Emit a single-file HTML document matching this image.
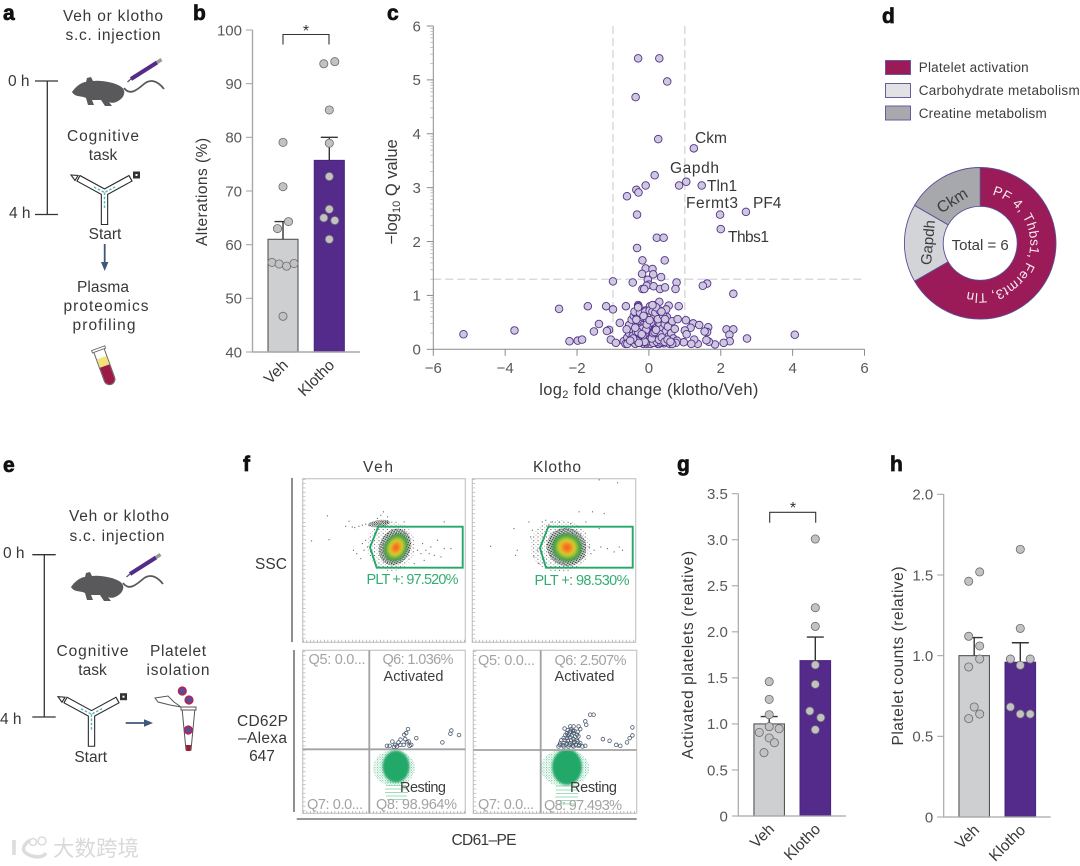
<!DOCTYPE html>
<html lang="en">
<head>
<meta charset="utf-8">
<title>Klotho platelet figure</title>
<style>
html,body{margin:0;padding:0;background:#fff;}
svg{display:block;font-family:"Liberation Sans","Noto Sans CJK SC",sans-serif;}
.lab{font-size:15.5px;fill:#38383a;}
.vol{font-size:16.5px;fill:#38383a;}
.tick{font-size:15px;fill:#58585a;}
.panel{font-size:21px;font-weight:bold;fill:#111;stroke:#111;stroke-width:.7px;}
.q{font-size:14.5px;fill:#a3a3a5;}
.ql{font-size:14.5px;fill:#3d3d3f;}
.plt{font-size:14.5px;fill:#35ad72;}
</style>
</head>
<body>
<svg id="fig" xmlns="http://www.w3.org/2000/svg" width="1080" height="866" viewBox="0 0 1080 866">
<defs>
<pattern id="speckleDark" width="2.2" height="2.2" patternUnits="userSpaceOnUse"><rect x="0" y="0" width="1.1" height="1.1" fill="#1a1a1a"/><rect x="1.2" y="1.2" width=".9" height=".9" fill="#28583a"/></pattern>
<pattern id="speckleGrey" width="4.3" height="3.7" patternUnits="userSpaceOnUse"><rect x="0" y="0" width="1" height="1" fill="#555"/><rect x="2.4" y="2" width=".8" height=".8" fill="#888"/></pattern>
<pattern id="speckleGreen" width="2.6" height="2.6" patternUnits="userSpaceOnUse"><rect x="0" y="0" width="1" height="1" fill="#4dbb85"/><rect x="1.4" y="1.4" width=".8" height=".8" fill="#7ccfa6"/></pattern>
<radialGradient id="heat"><stop offset="0" stop-color="#f0522a"/><stop offset=".28" stop-color="#f58a22"/><stop offset=".52" stop-color="#d8d02c"/><stop offset=".78" stop-color="#5cb043"/><stop offset="1" stop-color="#2f8a4c"/></radialGradient>
<filter id="soft" x="-30%" y="-30%" width="160%" height="160%"><feGaussianBlur stdDeviation="1"/></filter>
<g id="mouse-art">
<path d="M124,88 C130,96 137,90 144,84 C150,79 157,80 164,89" fill="none" stroke="#59595c" stroke-width="1.8"/>
<path d="M72,92 C76,86 82,82 86,82 L87,78 L91,77 L93,81 C100,80 112,82 118,85 C125,88 126,93 122,98 C118,102 113,104 109,102 L112,106 L105,106 L101,100 L92,100 L94,105 L88,105 L86,98 C82,96 80,97 78,96 C76,96 73,94 72,92 Z" fill="#59595c"/>
<path d="M127.5,82 L132,78" stroke="#555" stroke-width="1.2"/>
<path d="M131,79 L157,62.5" stroke="#542a8a" stroke-width="4"/>
<path d="M157,62.5 L161.5,59.5" stroke="#999" stroke-width="3.5"/>
</g>
<g id="ymaze-art">
<path d="M78,178 L104.5,192.5 L131,178 M104.5,192.5 L104.5,225" fill="none" stroke="#2b2b2b" stroke-width="7.4"/>
<path d="M79,178.6 L104.5,192.5 L130,178.6 M104.5,192.5 L104.5,224" fill="none" stroke="#fff" stroke-width="5.2"/>
<path d="M94,187 L104.5,192.5 L115,187 M104.5,192.5 L104.5,209" fill="none" stroke="#55b5b8" stroke-width="1.4" stroke-dasharray="2.5 1.8"/>
<path d="M71,175 L78,175.5 L75,180.5 Z" fill="#fff" stroke="#2b2b2b" stroke-width="1.1"/>
<rect x="133" y="171.5" width="7" height="7" fill="#333"/><rect x="135.5" y="174" width="2" height="2" fill="#fff"/>
</g>
</defs>

<!-- Panel letters -->
<text class="panel" x="3" y="20">a</text>
<text class="panel" x="193" y="20">b</text>
<text class="panel" x="387" y="20">c</text>
<text class="panel" x="882" y="23">d</text>
<text class="panel" x="3" y="472">e</text>
<text class="panel" x="243" y="471">f</text>
<text class="panel" x="677" y="471">g</text>
<text class="panel" x="890" y="471">h</text>

<!-- Panel a -->
<g>
<text class="lab" x="113" y="21" text-anchor="middle" textLength="100">Veh or klotho</text>
<text class="lab" x="113" y="40" text-anchor="middle" textLength="95">s.c. injection</text>
<text class="lab" x="8" y="86">0 h</text>
<text class="lab" x="9" y="218">4 h</text>
<path d="M35,81 H58 M47.3,81 V214.5 M35,214.5 H58" fill="none" stroke="#333" stroke-width="1.3"/>
<use href="#mouse-art"/>
<text class="lab" x="103" y="141" text-anchor="middle" textLength="72">Cognitive</text>
<text class="lab" x="103" y="160" text-anchor="middle">task</text>
<use href="#ymaze-art"/>
<text class="lab" x="105" y="239" text-anchor="middle">Start</text>
<path d="M104.7,244 V268" stroke="#3f5876" stroke-width="1.8"/><path d="M101,262 L104.7,271 L108.4,262 Z" fill="#3f5876"/>
<text class="lab" x="103" y="292" text-anchor="middle" textLength="52">Plasma</text>
<text class="lab" x="106" y="311" text-anchor="middle" textLength="85">proteomics</text>
<text class="lab" x="104" y="330" text-anchor="middle" textLength="63">profiling</text>
<g transform="translate(105,367) rotate(-20)">
<path d="M-5.5,-18 V13 A5.5,5.5 0 0 0 5.5,13 V-18 Z" fill="#fff" stroke="#666" stroke-width="1"/>
<rect x="-5" y="-10" width="10" height="9" fill="#f3e27c"/>
<path d="M-5,-1 V13 A5,5 0 0 0 5,13 V-1 Z" fill="#9a1b45"/>
<rect x="-7" y="-20" width="14" height="2.5" fill="#fff" stroke="#666" stroke-width=".9"/>
</g>
</g>

<!-- Panel b -->
<g id="chart-b">
<path d="M283,44.5 V34.5 H329 V44.5" fill="none" stroke="#333" stroke-width="1.1"/>
<text x="306" y="36" font-size="16" text-anchor="middle" fill="#333">*</text>
<text class="lab" transform="translate(207,192) rotate(-90)" text-anchor="middle" textLength="108">Alterations (%)</text>
</g>

<!-- Panel c -->
<g id="chart-c">
<text class="vol" transform="translate(397,192) rotate(-90)" text-anchor="middle">−log<tspan font-size="11" dy="3">10</tspan><tspan dy="-3"> Q value</tspan></text>
<text class="vol" x="649" y="395" text-anchor="middle" letter-spacing=".3">log<tspan font-size="11" dy="3">2</tspan><tspan dy="-3"> fold change (klotho/Veh)</tspan></text>
<text class="lab" x="695" y="143">Ckm</text>
<text class="lab" x="670" y="173" textLength="49">Gapdh</text>
<text class="lab" x="707" y="191">Tln1</text>
<text class="lab" x="686" y="208" textLength="52">Fermt3</text>
<text class="lab" x="753" y="208">PF4</text>
<text class="lab" x="728" y="242" textLength="41">Thbs1</text>
</g>

<!-- Panel d -->
<g>
<rect x="885.5" y="60.5" width="25" height="14" fill="#9a1b57" stroke="#6b5aa0"/>
<rect x="885.5" y="83.5" width="25" height="14" fill="#e1e2e5" stroke="#6b5aa0"/>
<rect x="885.5" y="106" width="25" height="14" fill="#a8a9ad" stroke="#6b5aa0"/>
<text x="918.7" y="72" font-size="13.5" fill="#3d3d3f" textLength="110">Platelet activation</text>
<text x="918.7" y="95" font-size="13.5" fill="#3d3d3f" textLength="161">Carbohydrate metabolism</text>
<text x="918.7" y="118" font-size="13.5" fill="#3d3d3f" textLength="128">Creatine metabolism</text>
</g>
<g id="chart-d"></g>

<!-- Panel e -->
<g>
<text class="lab" x="119" y="521" text-anchor="middle" textLength="100">Veh or klotho</text>
<text class="lab" x="117" y="541" text-anchor="middle" textLength="95">s.c. injection</text>
<text class="lab" x="3" y="558">0 h</text>
<text class="lab" x="0" y="724">4 h</text>
<path d="M32.3,554.7 H55.7 M44.3,554.7 V717 M32.3,717 H55.7" fill="none" stroke="#333" stroke-width="1.3"/>
<use href="#mouse-art" transform="translate(-1,495)"/>
<text class="lab" x="92.5" y="656" text-anchor="middle" textLength="72">Cognitive</text>
<text class="lab" x="92.5" y="675" text-anchor="middle">task</text>
<text class="lab" x="178" y="656" text-anchor="middle" textLength="56">Platelet</text>
<text class="lab" x="178" y="675" text-anchor="middle" textLength="63">isolation</text>
<use href="#ymaze-art" transform="translate(-13,521.7)"/>
<text class="lab" x="90.7" y="762" text-anchor="middle">Start</text>
<path d="M125.7,723 H149" stroke="#3f5876" stroke-width="1.8"/><path d="M144,719.3 L153,723 L144,726.7 Z" fill="#3f5876"/>
<g>
<path d="M182,708 H195 L191,750 H186 Z" fill="#fff" stroke="#555" stroke-width="1"/>
<path d="M186,745 H191 L190.5,751 H186.5 Z" fill="#9a1b35"/>
<rect x="181" y="707" width="15" height="3" fill="#fff" stroke="#555" stroke-width="1"/>
<path d="M155,698 L168,696 L174,702 L181,707 L170,705 L158,702 Z" fill="#fff" stroke="#555" stroke-width="1"/>
<circle cx="182.3" cy="691" r="3.8" fill="#5a4c9a" stroke="#b0264f" stroke-width="1.6"/>
<circle cx="189" cy="700" r="3.8" fill="#5a4c9a" stroke="#b0264f" stroke-width="1.6"/>
<circle cx="188.3" cy="730" r="3.8" fill="#5a4c9a" stroke="#b0264f" stroke-width="1.6"/>
</g>
</g>

<!-- Panel f -->
<g id="chart-f">
<text class="lab" x="378" y="472" text-anchor="middle" textLength="30">Veh</text>
<text class="lab" x="557" y="472" text-anchor="middle" textLength="48">Klotho</text>
<text class="lab" x="287" y="569" text-anchor="end" textLength="32">SSC</text>
<text class="lab" x="288" y="726" text-anchor="end" textLength="51">CD62P</text>
<text class="lab" x="287" y="743" text-anchor="end" textLength="49">–Alexa</text>
<text class="lab" x="262" y="761" text-anchor="middle">647</text>
<text class="lab" x="484" y="845" text-anchor="middle" textLength="65">CD61–PE</text>
<path d="M292,478 V642 M294,650 V812" stroke="#333" stroke-width="1.1" fill="none"/>
<path d="M296.7,819 H636.7" stroke="#777" stroke-width="1.6"/>

<rect x="302.7" y="478.7" width="162.6" height="163.6" fill="#fff" stroke="#c6c6c6" stroke-width="1.2"/>
<rect x="472.3" y="478.7" width="163.4" height="163.6" fill="#fff" stroke="#c6c6c6" stroke-width="1.2"/>
<rect x="302.7" y="650.3" width="162.6" height="163" fill="#fff" stroke="#c6c6c6" stroke-width="1.2"/>
<rect x="473.3" y="650.3" width="163.4" height="163" fill="#fff" stroke="#c6c6c6" stroke-width="1.2"/>
<path d="M304,479 V642 M473.7,479 V642 M304,651 V813 M474.7,651 V813" stroke="#b5b5b5" stroke-width="3" stroke-dasharray=".7 3.6" fill="none"/>
<path d="M303,641 H465 M472,641 H635 M303,812.2 H465 M473,812.2 H636" stroke="#a9a9a9" stroke-width="2.5" stroke-dasharray=".7 2.8" fill="none"/>

<g>
<ellipse cx="391" cy="546" rx="24" ry="25" fill="url(#speckleGrey)"/>
<ellipse cx="379" cy="523.5" rx="11" ry="3.5" fill="url(#speckleDark)" transform="rotate(-8 379 523.5)"/>
<ellipse cx="395" cy="547" rx="15.5" ry="19" fill="url(#speckleDark)" transform="rotate(25 395 547)"/>
<ellipse cx="396" cy="547.5" rx="11.5" ry="14.5" fill="url(#heat)" transform="rotate(28 396 547.5)" filter="url(#soft)"/>
</g>
<g>
<ellipse cx="560" cy="546" rx="30" ry="26" fill="url(#speckleGrey)"/>
<ellipse cx="566.5" cy="547" rx="20" ry="19" fill="url(#speckleDark)" transform="rotate(25 566.5 547)"/>
<ellipse cx="567" cy="547.5" rx="15" ry="14" fill="url(#heat)" transform="rotate(25 567 547.5)" filter="url(#soft)"/>
</g>
<path d="M370,547.3 L378.3,526.7 H462.7 V567.7 H376.7 Z" fill="none" stroke="#22a868" stroke-width="1.9"/>
<path d="M540,548 L548.3,526.7 H632.7 V567.7 H546 Z" fill="none" stroke="#22a868" stroke-width="1.9"/>
<text class="plt" x="366.5" y="584" textLength="92">PLT +: 97.520%</text>
<text class="plt" x="534.5" y="585" textLength="95">PLT +: 98.530%</text>

<g>
<ellipse cx="394" cy="768" rx="21" ry="18" fill="url(#speckleGreen)"/>
<path d="M386,782 H406 M386,785.5 H406 M385,789 H408 M385,792.5 H408 M386,796 H407 M387,799.5 H405" stroke="#9cdcba" stroke-width="1.1" fill="none"/>
<ellipse cx="396" cy="766.5" rx="13.5" ry="16" fill="#22a868" filter="url(#soft)"/>
</g>
<g>
<ellipse cx="565" cy="768" rx="24" ry="19" fill="url(#speckleGreen)"/>
<path d="M556,786 H578 M556,790 H578 M556,793.5 H578 M555,797 H578 M556,800.5 H577 M557,804 H575" stroke="#9cdcba" stroke-width="1.1" fill="none"/>
<ellipse cx="567" cy="767" rx="15" ry="18" fill="#22a868" filter="url(#soft)"/>
</g>
<path d="M369.3,650.3 V813 M302.7,749.3 H465.3" stroke="#a2a2a2" stroke-width="1.8" fill="none"/>
<path d="M540.7,650.3 V813 M473.3,750 H636.7" stroke="#a2a2a2" stroke-width="1.8" fill="none"/>

<text class="q" x="308.5" y="664" textLength="57">Q5: 0.0...</text>
<text class="q" x="382.5" y="664" textLength="71">Q6: 1.036%</text>
<text class="ql" x="383.5" y="681" textLength="60">Activated</text>
<text class="ql" x="400" y="792" textLength="46">Resting</text>
<text class="q" x="307" y="809" textLength="56">Q7: 0.0...</text>
<text class="q" x="376" y="809" textLength="81">Q8: 98.964%</text>
<text class="q" x="478" y="665" textLength="57">Q5: 0.0...</text>
<text class="q" x="554.5" y="665" textLength="72">Q6: 2.507%</text>
<text class="ql" x="554.5" y="681" textLength="60">Activated</text>
<text class="ql" x="570" y="792" textLength="47">Resting</text>
<text class="q" x="478" y="809" textLength="56">Q7: 0.0...</text>
<text class="q" x="544" y="810" textLength="78">Q8: 97.493%</text>
</g>

<!-- Panels g, h -->
<g id="chart-g">
<path d="M769.7,522.7 V512.3 H815.7 V522.7" fill="none" stroke="#333" stroke-width="1.1"/>
<text x="793" y="513" font-size="16" text-anchor="middle" fill="#333">*</text>
<text class="lab" transform="translate(693,655) rotate(-90)" text-anchor="middle" textLength="208">Activated platelets (relative)</text>
</g>
<g id="chart-h">
<text class="lab" transform="translate(903,656) rotate(-90)" text-anchor="middle" textLength="179">Platelet counts (relative)</text>
</g>

<!-- Watermark -->
<g>
<path d="M14,840 V855 M30,840 C22,846 20,852 32,856 C40,858 44,856 46,853" fill="none" stroke="#dcdcdc" stroke-width="3.5"/>
<circle cx="33" cy="842" r="3.5" fill="none" stroke="#dcdcdc" stroke-width="1.6"/>
<circle cx="42" cy="841" r="4" fill="none" stroke="#dcdcdc" stroke-width="1.6"/>
<text x="53" y="856" font-size="21.5" fill="#d9d9d9" font-family="'Liberation Sans','Noto Sans CJK SC',sans-serif">大数跨境</text>
</g>
</svg>

<script>
/* ---------- shared categories ---------- */
const barCategories = ['Veh', 'Klotho'];

/* ---------- panel b data ---------- */
const bTicks = [40, 50, 60, 70, 80, 90, 100];
const bMeans = [61, 75.7];
const bErrorTops = [64.3, 80];
const bVehValues = [79.07, 70.8, 64.3, 63, 56.7, 56.4, 56, 56.5, 46.65];
const bVehSlots = [0, 0, 1, -1, -2, -0.7, 0.65, 2, 0];
const bKlothoValues = [93.7, 94.1, 85.1, 78.9, 72.7, 66.6, 65, 64.5, 61];
const bKlothoSlots = [-1, 1, 0, 0, 0, 0, -1, 1, 0];

/* ---------- panel g data ---------- */
const gTicks = [0, 0.5, 1, 1.5, 2, 2.5, 3, 3.5];
const gTickLabels = ['0', '0.5', '1.0', '1.5', '2.0', '2.5', '3.0', '3.5'];
const gMeans = [1, 1.687];
const gErrorTops = [1.08, 1.943];
const gVehValues = [1.459, 1.267, 1.1, 0.97, 0.908, 0.948, 0.847, 0.796, 0.688];
const gVehSlots = [0, 0, 0, 0, -1.8, 1.8, 0, 0.95, -0.95];
const gKlothoValues = [3.008, 2.262, 2.059, 1.64, 1.43, 1.14, 1.068, 0.937];
const gKlothoSlots = [0, 0, 0, 0, 0, -1, 1, 0];

/* ---------- panel h data ---------- */
const hTicks = [0, 0.5, 1, 1.5, 2];
const hTickLabels = ['0', '0.5', '1.0', '1.5', '2.0'];
const hMeans = [1, 0.959];
const hErrorTops = [1.112, 1.08];
const hVehValues = [1.461, 1.519, 1.12, 1.06, 0.979, 0.93, 0.682, 0.638, 0.61];
const hVehSlots = [-1, 1, -1, 1, 1, -1, 0, 1, -1];
const hKlothoValues = [1.659, 1.169, 0.979, 0.979, 0.94, 0.682, 0.638, 0.638];
const hKlothoSlots = [0, 0, -1.8, 1.8, 0, -1.8, 0, 1.8];

/* ---------- panel c data ---------- */
const volcanoXTicks = [-6, -4, -2, 0, 2, 4, 6];
const volcanoYTicks = [0, 1, 2, 3, 4, 5, 6];
const foldThreshold = 1;
const qThreshold = 1.3;
const volcanoX = [-.30,.29,.51,-.37,.26,1.25,.16,-.09,-.35,-.29,-.61,.84,1.04,1.47,1.98,2.70,2.0,-.33,.22,.41,-.33,-.18,.44,-.09,.10,-.19,.12,.34,-.03,-1.0,-.45,.77,1.62,1.5,0,-.06,.13,-.18,-.13,.31,.45,.74,2.35,.29,-2.5,-1.7,-1.19,-1.0,-.64,-.30,-.29,.03,.12,-.1,.55,.83,.48,-.81,-1.39,-1.53,-1.11,-1.17,-3.74,-5.16,4.06,2.73,-2.21,-1.98,-1.86,-1.06,-.92,1.03,1.23,1.40,1.65,1.62,1.55,1.16,1.0,1.05,2.16,2.35,2.24,2.25,2.08,1.84,1.67,1.6,1.36,1.26,1.18,.97,
-.7,-.6,-.55,-.5,-.55,-.62,-.48,-.42,-.38,-.33,-.3,-.45,-.4,-.35,-.32,-.28,-.25,-.22,-.2,-.18,-.15,-.12,-.1,-.08,-.05,-.03,-.02,0,.02,.03,.04,.05,.06,.07,.08,.1,.11,.12,.13,.14,.15,.17,.18,.2,.22,.24,.26,.27,.28,.3,.33,.35,.37,.39,.41,.44,.47,.49,.5,.53,.56,.58,.62,.65,.68,.72,.78,.8,.75,
-.65,-.6,-.38,-.28,-.15,-.05,.05,.25,.28,.42,.58,.65,
0,.01,.03,-.02,-.04,.05,.06,-.06,.02,0,.08,.09,-.07,-.03,.04,-.1,-.13,.12,.16,
-.4,-.25,-.1,.02,.1,.18,.3,.2,.1,-.3,-.15,-.35,.25,.4,.35,.45,
-.02,.01,.04,.07,-.05,-.09,.1,.13,-.12,-.16,.16,.2,-.2,.24,-.24,.03,.06,-.03,.09,-.07,.01,-.01,.05,.02,-.04,.12,-.11,.15,-.14,.18,-.18,.22,-.22,.26,-.26,.3,-.3,.34,-.34,.38,-.38,.0,.04,-.04,.08,-.08,.12,-.12,.16,-.16,.2,-.2,.28,-.28,.36,.44,.52,.6,-.44,-.52,.06,-.06,.02];
const volcanoY = [5.40,5.40,4.97,4.68,3.90,3.73,3.23,3.04,2.96,2.91,2.84,3.04,3.11,3.04,2.50,2.55,2.23,2.50,2.07,2.07,1.88,1.65,1.65,1.50,1.49,1.40,1.39,1.34,1.29,1.26,1.24,1.24,1.22,1.18,1.2,1.18,1.17,1.12,1.12,1.12,1.15,1.12,1.03,.88,.75,.80,.80,.74,.80,.82,.80,.80,.82,.72,.81,.80,.74,.49,.47,.33,.36,.34,.35,.28,.27,.20,.15,.16,.18,.18,.12,.54,.48,.45,.41,.32,.33,.40,.35,.28,.37,.37,.27,.15,.12,.09,.14,.17,.10,.18,.10,.13,
.15,.22,.3,.38,.45,.37,.55,.62,.68,.6,.5,.25,.18,.32,.42,.28,.2,.37,.5,.6,.45,.3,.22,.38,.55,.18,.28,.42,.34,.24,.16,.5,.3,.2,.38,.26,.14,.58,.34,.44,.22,.3,.16,.52,.4,.26,.65,.34,.19,.46,.28,.15,.38,.56,.24,.47,.33,.18,.6,.42,.25,.15,.3,.52,.2,.38,.16,.56,.12,
.1,.1,.1,.12,.1,.1,.1,.1,.1,.11,.1,.1,
.3,.26,.32,.22,.34,.28,.36,.26,.2,.18,.24,.3,.17,.38,.44,.34,.26,.2,.38,
.7,.68,.7,.72,.7,.68,.72,.78,.82,.78,.62,.55,.56,.62,.7,.56,
.24,.31,.21,.27,.19,.33,.23,.17,.28,.22,.36,.25,.4,.21,.3,.35,.15,.19,.42,.13,.27,.46,.37,.15,.22,.12,.29,.34,.16,.24,.38,.14,.18,.2,.12,.28,.32,.12,.16,.14,.4,.44,.48,.42,.2,.36,.3,.14,.32,.26,.36,.28,.18,.12,.22,.14,.18,.14,.2,.16,.5,.46,.54];

/* ---------- panel d data ---------- */
const pathwayNames = ['Platelet activation', 'Carbohydrate metabolism', 'Creatine metabolism'];
const pathwayGeneCounts = [4, 1, 1];
const pathwayColors = ['#9a1b57', '#d3d4d8', '#a7a8ac'];

/* ---------- panel f data (channel units 0-1000 across each plot) ---------- */
const sscVehX = [260,281,301,316,342,363,383,404,424,439,455,469,486,506,521,492,476,517,455,148,51,158,308,328,353,373,394,363,383,619,865,701,722,752,783,824,865,906,804,742,681,732,773,845];
const sscVehY = [715,746,711,707,715,722,728,722,736,728,732,728,742,742,732,804,783,773,763,779,625,633,568,547,517,568,588,609,629,742,742,568,547,568,588,629,578,578,537,506,486,609,547,527];
const sscKlothoX = [109,252,273,262,344,365,355,396,375,406,426,447,467,488,529,601,652,734,806,693,775,713,744,785,826,867,898,918,683,724,775,888];
const sscKlothoY = [592,701,568,537,742,691,650,568,527,486,742,752,722,742,742,732,804,804,793,742,701,588,568,588,578,558,588,568,527,547,1000,982];
const activatedVehX = [646,635,623,697,588,629,650,666,568,599,517,533,578,619,656,912,906,959,857,550,600,560,640];
const activatedVehY = [517,492,482,461,435,455,441,420,420,420,414,414,410,420,414,508,488,480,435,440,452,408,436];
const activatedKlothoX = [717,738,687,693,595,615,646,656,574,595,615,636,554,574,595,615,636,707,533,554,574,595,615,656,523,554,584,615,646,687,795,836,877,902,943,959,976,976,
560,580,600,620,640,565,585,605,625,645,540,560,580,600,620,640,530,550,570,590,610,630,650,670,580,610];
const activatedKlothoY = [605,605,564,543,533,533,533,517,492,502,492,482,461,461,467,455,451,467,430,430,430,430,430,430,410,410,410,410,414,414,455,445,420,414,435,461,478,527,
520,510,515,505,500,480,485,478,470,472,448,450,445,448,440,442,420,418,422,420,416,418,420,410,475,505];

/* ---------- helpers ---------- */
const SVGNS = 'http://www.w3.org/2000/svg';
function linearScale(d0, d1, r0, r1) {
  return function (v) { return r0 + (v - d0) * (r1 - r0) / (d1 - d0); };
}
function node(parent, tag, attrs) {
  const el = document.createElementNS(SVGNS, tag);
  Object.keys(attrs).forEach(function (k) { el.setAttribute(k, attrs[k]); });
  parent.appendChild(el);
  return el;
}

/* ---------- bar panels ---------- */
function drawBarPanel(cfg) {
  const g = document.getElementById(cfg.id);
  const y = linearScale(cfg.domain[0], cfg.domain[1], cfg.y0, cfg.y1);
  const layer = node(g, 'g', {});
  
  

  cfg.ticks.forEach(function (t, i) {
    const tk = node(layer, 'line', {x1: cfg.axisX - cfg.tickLen, x2: cfg.axisX, y1: y(t), y2: y(t), stroke: '#a8a8a8', 'stroke-width': 1.1});
    
    
    const lb = node(layer, 'text', {x: cfg.axisX - cfg.tickLen - 4, y: y(t) + 5.3, 'text-anchor': 'end', 'class': 'tick'});
    lb.textContent = cfg.tickLabels ? cfg.tickLabels[i] : String(t);
    
    
  });

  barCategories.forEach(function (cat, i) {
    const cx = cfg.centers[i];
    const top = y(cfg.means[i]);
    const bar = node(layer, 'rect', {x: cx - cfg.barWidth / 2, y: top, width: cfg.barWidth, height: cfg.y0 - top, fill: i === 0 ? '#cdcfd1' : '#542a8a', stroke: i === 0 ? '#555' : '#4a2680', 'stroke-width': 1.1});
    
    
    const err = node(layer, 'path', {d: 'M' + cx + ',' + top + ' V' + y(cfg.errorTops[i]) + ' M' + (cx - 8.5) + ',' + y(cfg.errorTops[i]) + ' H' + (cx + 8.5), stroke: '#333', 'stroke-width': 1.4, fill: 'none'});
    
    
    const vals = cfg.values[i];
    const slots = cfg.slots[i];
    vals.forEach(function (v, j) {
      const dot = node(layer, 'circle', {cx: cx + slots[j] * 5.5, cy: y(v), r: 4.1, fill: '#c2c2c4', stroke: '#6a6a6c', 'stroke-width': .8});
      
      
    });
    const lab = node(layer, 'text', {transform: 'translate(' + (cx + cfg.labelDx) + ',' + (cfg.y0 + cfg.labelDy) + ') rotate(-45)', 'text-anchor': 'end', 'class': 'lab'});
    lab.textContent = cat;
    
    
  });

  const axes = node(layer, 'path', {d: 'M' + cfg.axisX + ',' + cfg.y1 + ' V' + cfg.y0 + ' H' + cfg.axisEnd, fill: 'none', stroke: '#a8a8a8', 'stroke-width': cfg.axisW});
  
  
}

drawBarPanel({id: 'chart-b', prefix: 'b', domain: [40, 100], y0: 352, y1: 30, axisX: 252.5, axisEnd: 360, axisW: 1.4, tickLen: 6.5,
  ticks: bTicks, centers: [283, 329.3], barWidth: 30, means: bMeans, errorTops: bErrorTops,
  values: [bVehValues, bKlothoValues], slots: [bVehSlots, bKlothoSlots], labelDx: 6, labelDy: 14});
drawBarPanel({id: 'chart-g', prefix: 'g', domain: [0, 3.5], y0: 816, y1: 493.7, axisX: 738.3, axisEnd: 846, axisW: 1.2, tickLen: 6.5,
  ticks: gTicks, tickLabels: gTickLabels, centers: [769.2, 815.3], barWidth: 30.5, means: gMeans, errorTops: gErrorTops,
  values: [gVehValues, gKlothoValues], slots: [gVehSlots, gKlothoSlots], labelDx: 6, labelDy: 14});
drawBarPanel({id: 'chart-h', prefix: 'h', domain: [0, 2], y0: 817, y1: 494.3, axisX: 943.7, axisEnd: 1050.7, axisW: 1.2, tickLen: 6.5,
  ticks: hTicks, tickLabels: hTickLabels, centers: [974.2, 1020.3], barWidth: 30.5, means: hMeans, errorTops: hErrorTops,
  values: [hVehValues, hKlothoValues], slots: [hVehSlots, hKlothoSlots], labelDx: 6, labelDy: 14});

/* ---------- volcano ---------- */
(function () {
  const g = document.getElementById('chart-c');
  const x = linearScale(-6, 6, 433.3, 864.5);
  const y = linearScale(0, 6, 349.3, 26);
  const plot = node(g, 'g', {});
  
  
  const first = g.firstChild;
  g.insertBefore(plot, first);

  [-foldThreshold, foldThreshold].forEach(function (f) {
    const l = node(plot, 'line', {x1: x(f), x2: x(f), y1: y(6), y2: y(0), stroke: '#d4d4d4', 'stroke-width': 1.3, 'stroke-dasharray': '8 4'});
    
    
  });
  const h = node(plot, 'line', {x1: x(-6), x2: x(6), y1: y(qThreshold), y2: y(qThreshold), stroke: '#d4d4d4', 'stroke-width': 1.3, 'stroke-dasharray': '8 4'});
  
  

  const axes = node(plot, 'path', {d: 'M' + x(-6) + ',' + y(6) + ' V' + y(0) + ' H' + x(6), fill: 'none', stroke: '#8a8a8a', 'stroke-width': 1});
  
  

  volcanoYTicks.forEach(function (t) {
    const tk = node(plot, 'line', {x1: x(-6) - 6.5, x2: x(-6), y1: y(t), y2: y(t), stroke: '#8a8a8a', 'stroke-width': 1});
    
    
    const lb = node(plot, 'text', {x: x(-6) - 12.5, y: y(t) + 5.3, 'text-anchor': 'end', 'class': 'tick'});
    lb.textContent = String(t);
    
    
    if (t < 6) {
      [2, 3, 4, 5, 6, 7, 8, 9].forEach(function (k) {
        const m = t + Math.log10(k);
        node(plot, 'line', {x1: x(-6) - 3, x2: x(-6), y1: y(m), y2: y(m), stroke: '#aaa', 'stroke-width': .7});
      });
    }
  });
  volcanoXTicks.forEach(function (t) {
    const tk = node(plot, 'line', {x1: x(t), x2: x(t), y1: y(0), y2: y(0) + 6.5, stroke: '#8a8a8a', 'stroke-width': 1});
    
    
    const lb = node(plot, 'text', {x: x(t), y: 373, 'text-anchor': 'middle', 'class': 'tick'});
    lb.textContent = (t < 0 ? '−' + (-t) : String(t));
    
    
  });
  volcanoX.forEach(function (v, i) {
    const c = node(plot, 'circle', {cx: x(v), cy: y(volcanoY[i]), r: 3.8, fill: '#cdc8dd', stroke: '#54308c', 'stroke-width': .9});
    
    
  });
})();

/* ---------- donut ---------- */
(function () {
  const g = document.getElementById('chart-d');
  const cx = 980.2, cy = 243.3, R = 75.8, r = 37;
  const total = pathwayGeneCounts.reduce(function (a, b) { return a + b; }, 0);
  function pt(rad, frac) {
    const a = frac * 2 * Math.PI;
    return (cx + rad * Math.sin(a)) + ',' + (cy - rad * Math.cos(a));
  }
  let cum = 0;
  pathwayGeneCounts.forEach(function (n, i) {
    const s = cum / total, e = (cum + n) / total;
    const big = (e - s) > 0.5 ? 1 : 0;
    const d = 'M' + pt(R, s) + ' A' + R + ',' + R + ' 0 ' + big + ' 1 ' + pt(R, e) + ' L' + pt(r, e) + ' A' + r + ',' + r + ' 0 ' + big + ' 0 ' + pt(r, s) + ' Z';
    const slice = node(g, 'path', {d: d, fill: pathwayColors[i], stroke: '#5d4b96', 'stroke-width': .9});
    
    
    cum += n;
  });
  const b = 50;
  const defs = node(g, 'defs', {});
  node(defs, 'path', {id: 'donut-arc', d: 'M' + cx + ',' + (cy - b) + ' A' + b + ',' + b + ' 0 1 1 ' + cx + ',' + (cy + b) + ' A' + b + ',' + b + ' 0 1 1 ' + cx + ',' + (cy - b)});
  const t = node(g, 'text', {'font-size': 13.5, fill: '#f3e9ee', 'letter-spacing': .35});
  
  
  const tp = node(t, 'textPath', {href: '#donut-arc', startOffset: 12});
  tp.textContent = 'PF 4, Thbs1, Fermt3, Tln';
  const gap = node(g, 'text', {transform: 'translate(933,243) rotate(-85)', 'text-anchor': 'middle', 'font-size': 15, fill: '#3d3d3f'});
  gap.textContent = 'Gapdh';
  
  
  const ck = node(g, 'text', {transform: 'translate(955,205) rotate(-32)', 'text-anchor': 'middle', 'font-size': 16, fill: '#3d3d3f'});
  ck.textContent = 'Ckm';
  
  
  const tot = node(g, 'text', {x: cx, y: 250, 'text-anchor': 'middle', 'font-size': 15, fill: '#3d3d3f'});
  tot.textContent = 'Total = ' + total;
  
  
})();

/* ---------- flow plots ---------- */
(function () {
  const g = document.getElementById('chart-f');
  function flowX(frameLeft) { return linearScale(0, 1000, frameLeft, frameLeft + 163); }
  function flowY(frameBottom) { return linearScale(0, 1000, frameBottom, frameBottom - 163); }
  function sparse(xs, ys, left, bottom, name) {
    const fx = flowX(left), fy = flowY(bottom);
    xs.forEach(function (v, i) {
      const d = node(g, 'rect', {x: fx(v), y: fy(ys[i]), width: 1.1, height: 1.1, fill: '#666'});
      
      
    });
  }
  function open(xs, ys, left, bottom, name) {
    const fx = flowX(left), fy = flowY(bottom);
    xs.forEach(function (v, i) {
      const c = node(g, 'circle', {cx: fx(v), cy: fy(ys[i]), r: 1.8, fill: 'none', stroke: '#4c5c70', 'stroke-width': .8});
      
      
    });
  }
  sparse(sscVehX, sscVehY, 302.7, 642.3, 'ssc-event-veh');
  sparse(sscKlothoX, sscKlothoY, 472.3, 642.3, 'ssc-event-klotho');
  open(activatedVehX, activatedVehY, 302.7, 813.3, 'activated-event-veh');
  open(activatedKlothoX, activatedKlothoY, 473.3, 813.3, 'activated-event-klotho');
})();
</script>
</body>
</html>
